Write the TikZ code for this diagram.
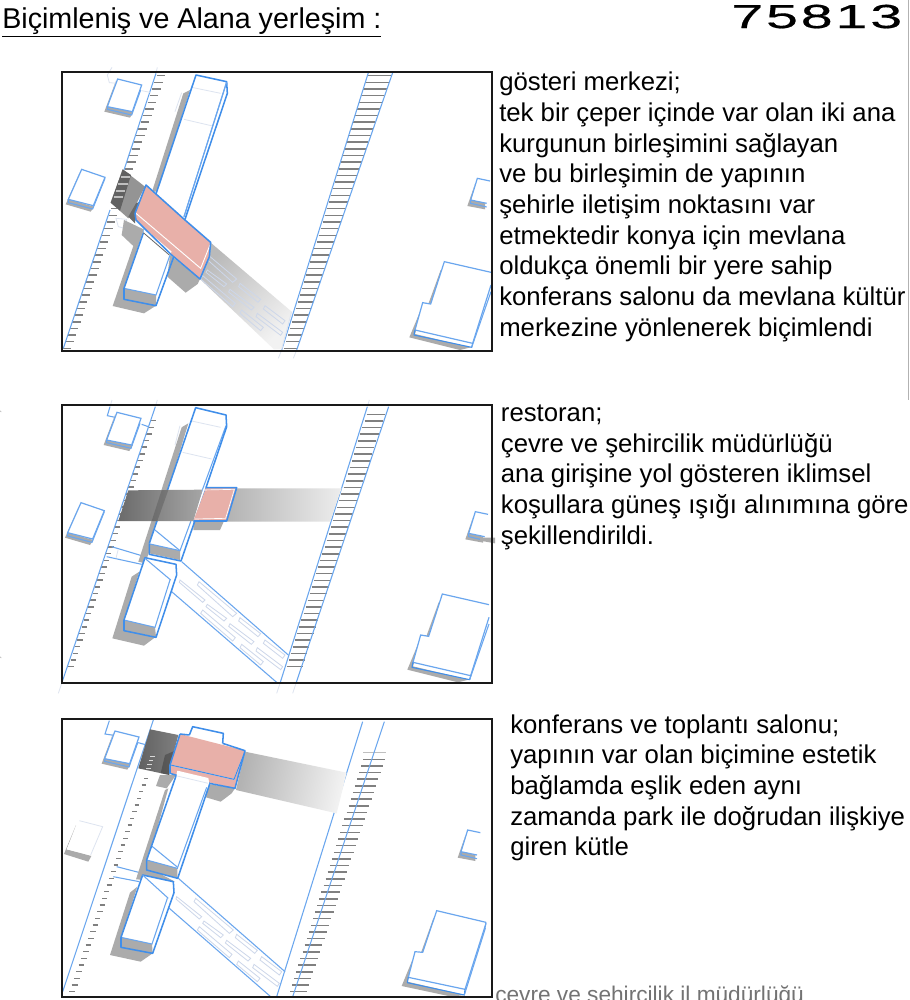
\documentclass[tikz,border=0pt]{standalone}
\usepackage{fontspec}
\setmainfont{Liberation Sans}
\newfontfamily\numfont[LetterSpace=5,FakeBold=0.4]{Liberation Sans}
\definecolor{bl}{HTML}{3F8EEA}
\definecolor{blt}{HTML}{6AA6EE}
\definecolor{fnt}{HTML}{DDE4F0}
\definecolor{inn}{HTML}{CDD7EA}
\definecolor{pnk}{HTML}{E8B0A9}
\definecolor{shd}{HTML}{ABABAB}
\definecolor{dshd}{HTML}{7C7C7C}
\tikzset{
 bk/.style={draw=bl,line width=1.15pt,line join=round},
 tn/.style={draw=blt,line width=.8pt},
 fa/.style={draw=fnt,line width=.6pt},
 sh/.style={fill=shd,draw=none},
 wh/.style={fill=white,draw=none},
 pk/.style={fill=pnk,draw=none},
 stripe/.style={draw=black!50,line width=1.15pt},
 frm/.style={draw=black!90,line width=1.4pt},
 para/.style={anchor=north west,align=left,inner sep=0pt,font=\fontsize{19.3}{23}\selectfont,text=black},
}
% stripes: x1 y1 x2 y2 n len1 len2
\newcommand\rungs[7]{\foreach \i in {0,...,#5}{%
 \pgfmathsetmacro\xa{#1+\i/#5*(#3-(#1))}\pgfmathsetmacro\ya{#2+\i/#5*(#4-(#2))}%
 \pgfmathsetmacro\la{#6+\i/#5*(#7-(#6))}%
 \draw[stripe] (\xa,\ya) -- ++(\la,0);}}
\newcommand\bldA[1]{\begin{scope}[shift={#1}]
 \fill[sh] (198,62)--(163,155)--(240,173)--(250,155)--(175,138)--cycle;
 \fill[wh] (203,57)--(275,75)--(247,155)--(172,140)--cycle;
 \draw[tn,line width=.9pt] (203,57)--(275,75)--(247,155)--(172,140)--cycle;
 \draw[tn] (172,140)--(172,148)--(245,165)--(272,90);
 \end{scope}}
\newcommand\bldB[1]{\begin{scope}[shift={#1}]
 \fill[sh] (88,340)--(47,433)--(122,455)--(132,440)--(55,418)--cycle;
 \fill[wh] (95,328)--(165,352)--(130,437)--(55,418)--cycle;
 \draw[tn,line width=.9pt] (95,328)--(165,352)--(130,437)--(55,418)--cycle;
 \draw[tn] (55,418)--(55,428)--(128,447)--(165,355);
 \end{scope}}
\newcommand\bldR[1]{\begin{scope}[shift={#1}]
 \fill[sh] (1275,372)--(1252,438)--(1305,448)--(1305,430)--(1262,420)--cycle;
 \fill[wh] (1282,355)--(1320,363)--(1320,428)--(1262,420)--cycle;
 \draw[tn,line width=.9pt] (1320,363)--(1282,355)--(1262,420)--(1310,430);
 \draw[tn] (1262,420)--(1262,430)--(1310,441);
 \end{scope}}
\newcommand\bldBig[1]{\begin{scope}[shift={#1}]
 \fill[sh] (1172,630)--(1135,732)--(1160,732)--(1185,630)--cycle;
 \fill[sh] (1110,755)--(1078,832)--(1230,870)--(1262,862)--(1095,822)--(1115,755)--cycle;
 \fill[wh] (1183,605)--(1323,637)--(1323,680)--(1268,850)--(1095,810)--(1118,728)--(1142,732)--cycle;
 \draw[tn,line width=.9pt] (1323,637)--(1183,605)--(1142,732)--(1118,728)--(1095,810)--(1268,850)--(1323,675);
 \draw[bk,line width=.8pt] (1095,810)--(1092,825)--(1265,862)--(1268,850);
 \draw[tn] (1265,862)--(1323,695);
 \end{scope}}
% lower-right diagonal pedestrian strip inner rectangles
\newcommand\inner[1]{\begin{scope}[shift={#1}]
 \draw[inn,line width=.6pt] (390,555)--(465,615)--(458,622)--(388,562)--cycle;
 \draw[inn,line width=.6pt] (447,560)--(560,655)--(548,665)--(442,570)--cycle;
 \draw[inn,line width=.6pt] (472,628)--(530,670)--(522,678)--(468,635)--cycle;
 \draw[inn,line width=.6pt] (540,686)--(612,740)--(604,748)--(536,694)--cycle;
 \draw[inn,line width=.6pt] (458,645)--(556,728)--(548,738)--(452,655)--cycle;
 \draw[inn,line width=.6pt] (570,668)--(632,716)--(624,725)--(566,678)--cycle;
 \draw[inn,line width=.6pt] (645,735)--(705,780)--(698,790)--(640,745)--cycle;
 \draw[inn,line width=.6pt] (575,748)--(640,800)--(632,810)--(570,758)--cycle;
 \draw[inn,line width=.6pt] (622,758)--(698,815)--(692,824)--(618,768)--cycle;
 \end{scope}}
\begin{document}
\begin{tikzpicture}[x=.25pt,y=-.25pt]
\useasboundingbox (0,0) rectangle (2730,3000);
\clip (0,0) rectangle (2730,3000);
\fill[white] (0,0) rectangle (2730,3000);
% page furniture
\node[anchor=base west,inner sep=0pt,font=\fontsize{21.5}{26}\selectfont,text=black] (title) at (6,86) {\underline{Biçimleniş ve Alana yerleşim :}};
\node[anchor=base east,inner sep=0pt,font=\fontsize{25}{30}\selectfont,xscale=1.72] (num) at (2708,84) {\numfont 75813};
\draw[gray!60,line width=.5pt] (2726,0)--(2726,1200);
\draw[gray!60,line width=.4pt] (0,1232)--(4,1236) (0,1970)--(4,1974);

% ---------- PANEL 1 ----------
\begin{scope}[shift={(150,180)}]
 \rungs{320}{47}{40}{865}{41}{26}{24}
 \rungs{952}{47}{702}{865}{41}{72}{40}
 \draw[tn] (318,40)--(222,330) (180,450)--(40,865);
 \draw[tn] (955,38)--(695,870) (1028,38)--(740,870);
 \draw[fa] (172,45)--(178,68)--(203,70) (275,92)--(300,97) (198,475)--(205,500)--(225,505)--(230,478)--cycle;
 \draw[fa] (322,22)--(318,38) (186,22)--(172,45) (695,870)--(685,895) (740,870)--(730,895);
 \bldA{(0,0)}
 \bldB{(0,0)}
 \bldR{(0,0)}
 \bldBig{(0,0)}
 % ribbon
 \shade[top color=black!27,bottom color=black!5,shading angle=42] (482,548)--(725,755)--(695,868)--(672,868)--(450,657)--cycle;
 \inner{(0,2)}
 \draw[fa,line width=.7pt] (725,755)--(695,868);
 % shadows of the long block
 \fill[sh] (420,90)--(400,100)--(306,395)--(322,395)--cycle;
 \fill[sh] (222,480)--(215,525)--(250,558)--(188,738)--(282,760)--(318,737)--(300,600)--(285,510)--cycle;
 \fill[sh] (360,585)--(352,650)--(407,698)--(443,672)--(450,657)--cycle;
 % long block
 \fill[wh] (438,45)--(530,65)--(532,100)--(318,705)--(222,685)--cycle;
 \fill[shd] (222,685)--(318,705)--(318,737)--(222,718)--cycle;
 \draw[fa] (395,98)--(375,155) (425,82)--(512,100) (402,178)--(488,198);
 \draw[tn] (530,65)--(402,470) (360,585)--(318,705)--(222,685);
 \draw[bk] (285,505)--(222,685)--(222,718)--(318,737)--(375,580);
 \draw[bk] (318,402)--(438,45)--(530,65)--(532,100)--(405,478);
 \draw[tn] (530,67)--(402,470);
 % dark shadow
 \fill[black!42] (218,328)--(182,428)--(235,475)--(260,430)--(285,380)--(240,345)--cycle;
 \fill[black!62] (218,328)--(182,428)--(210,452)--(243,345)--cycle;
 \foreach \yy/\xx in {352/212,372/205,392/198,412/192}{\draw[draw=black!25,line width=1.7pt] (\xx,\yy)--++(28,0);}
 \fill[black!58] (258,430)--(235,470)--(255,490)--(258,460)--(270,425)--cycle;
 % pink
 \fill[pk] (288,375)--(318,402)--(405,480)--(482,547)--(478,590)--(450,657)--(365,585)--(283,505)--(258,480)--(255,460)--cycle;
 \draw[white,line width=.7pt] (258,460)--(452,625)--(482,550);
 \fill[wh] (283,505)--(365,575)--(358,585)--(280,518)--cycle;
 \draw[black!60,line width=.6pt] (280,518)--(358,585);
 \draw[bk] (288,375)--(318,402)--(405,480)--(482,547)--(478,590)--(450,657)--(365,585)--(283,505)--(258,480)--(255,460)--cycle;
 \draw[frm] (35,35) rectangle (1325,873);
\end{scope}
\node[para] (t1) at (1497,216) {gösteri merkezi;\\tek bir çeper içinde var olan iki ana\\kurgunun birleşimini sağlayan\\ve bu birleşimin de yapının\\şehirle iletişim noktasını var\\etmektedir konya için mevlana\\oldukça önemli bir yere sahip\\konferans salonu da mevlana kültür\\merkezine yönlenerek biçimlendi};

% ---------- PANEL 2 ----------
\begin{scope}[shift={(150,1185)}]
 \rungs{300}{77}{55}{815}{37}{18}{16}
 \rungs{950}{58}{710}{815}{38}{55}{48}
 \draw[tn] (316,35)--(35,865);
 \draw[tn] (952,35)--(690,865) (1016,35)--(738,865);
 \draw[tn] (180,35)--(172,62)--(200,68) (275,88)--(295,95);
 \draw[fa] (35,865)--(25,895) (690,865)--(680,895) (738,865)--(728,895) (186,15)--(180,35) (322,15)--(316,35) (958,15)--(952,35);
 \bldA{(-2,-5)}
 \bldB{(-2,-5)}
 \bldR{(-6,-5)}
 \fill[sh] (1290,428)--(1335,428)--(1335,445)--(1290,437)--cycle;
 \bldBig{(-6,-8)}
 % diagonal walk
 \inner{(0,0)}
 \draw[tn] (395,500)--(715,780) (365,590)--(680,862) (285,490)--(362,555) (315,405)--(390,467);
 \draw[tn] (185,455)--(285,485) (170,485)--(275,508);
 \draw[fa] (205,462)--(198,490);
 % shadows
 \fill[sh] (415,85)--(395,97)--(265,500)--(285,505)--(298,470)--cycle;
 \fill[sh] (268,530)--(245,545)--(187,730)--(282,752)--(318,725)--(222,707)--(222,675)--cycle;
 \fill[sh] (430,378)--(522,378)--(510,405)--(430,405)--cycle;
 % upper block
 \fill[wh] (437,38)--(528,60)--(530,95)--(390,495)--(298,475)--(298,445)--cycle;
 \fill[shd] (300,447)--(390,467)--(390,495)--(298,475)--cycle;
 \draw[fa] (425,78)--(512,97) (398,172)--(485,192) (390,92)--(375,150);
 \draw[tn] (528,92)--(390,467)--(300,447);
 \draw[tn] (315,405)--(390,467);
 \draw[bk] (298,445)--(298,478)--(393,498)--(470,275);
 \draw[bk] (298,445)--(437,38)--(528,60)--(530,95)--(468,278);
 % lower block
 \fill[wh] (285,488)--(378,508)--(380,540)--(318,725)--(222,707)--(222,675)--cycle;
 \fill[shd] (222,675)--(315,697)--(318,725)--(222,707)--cycle;
 \draw[tn] (360,555)--(315,697)--(222,675);
 \draw[bk] (285,488)--(222,675)--(222,707)--(318,727)--(380,540)--(378,508)--cycle;
 \draw[tn] (285,490)--(362,555);
 % gradient band
 \shade[left color=black!58,right color=black!35] (235,286)--(458,284)--(430,378)--(205,378)--cycle;
 \fill[black,opacity=.16] (335,285)--(355,285)--(322,378)--(305,378)--cycle;
 \shade[left color=black!30,right color=black!7] (560,280)--(875,280)--(840,380)--(530,380)--cycle;
 \fill[pk] (468,278)--(560,278)--(530,378)--(430,378)--cycle;
 \draw[white,line width=.5pt] (458,285)--(553,283)--(527,370)--(434,372);
 \draw[bk] (468,278)--(560,278)--(530,378)--(430,378);
 \draw[frm] (35,30) rectangle (1325,865);
\end{scope}
\node[para] (t2) at (1502,1214) {restoran;\\çevre ve şehircilik müdürlüğü\\ana girişine yol gösteren iklimsel\\koşullara güneş ışığı alınımına göre\\şekillendirildi.};

% ---------- PANEL 3 ----------
\begin{scope}[shift={(150,2130)}]
 \rungs{282}{205}{58}{845}{32}{12}{18}
 \rungs{940}{148}{720}{845}{35}{65}{50}
 \draw[draw=gray!50,line width=.6pt] (940,128)--(1008,128);
 \draw[tn] (310,30)--(38,845);
 \draw[tn] (938,35)--(680,860) (1003,35)--(728,860);
 \draw[tn] (178,32)--(165,72)--(192,76) (265,98)--(290,105);
 \bldA{(-8,6)}
 % faded building
 \fill[sh] (78,345)--(42,432)--(115,455)--(124,438)--(50,418)--cycle;
 \fill[wh] (88,332)--(158,350)--(122,435)--(50,418)--cycle;
 \draw[fa] (88,332)--(158,350)--(122,435);
 \bldR{(-29,5)}
 % large building, whole
 \fill[sh] (1150,625)--(1113,728)--(1138,728)--(1162,625)--cycle;
 \fill[sh] (1087,750)--(1055,828)--(1205,860)--(1245,855)--(1072,815)--(1092,750)--cycle;
 \fill[wh] (1160,602)--(1308,637)--(1303,665)--(1245,838)--(1075,802)--(1095,725)--(1118,727)--cycle;
 \draw[tn,line width=.9pt] (1308,637)--(1160,602)--(1118,727)--(1095,725)--(1075,802)--(1245,838)--(1308,640);
 \draw[bk,line width=.8pt] (1075,802)--(1072,818)--(1243,855)--(1245,838);
 \draw[tn] (1243,855)--(1306,655) (1308,637)--(1304,660);
 \inner{(-10,5)}
 \draw[tn] (385,505)--(705,785) (358,595)--(662,860) (278,495)--(355,565) (305,408)--(383,472);
 \draw[tn] (200,470)--(270,488) (190,500)--(268,515);
 % shadows
 \fill[sh] (330,195)--(318,228)--(350,235)--(378,195)--cycle;
 \fill[sh] (475,222)--(468,262)--(512,275)--(545,250)--(555,235)--cycle;
 \fill[sh] (355,235)--(345,240)--(258,508)--(375,515)--(290,470)--cycle;
 \fill[sh] (262,530)--(240,548)--(180,735)--(272,755)--(308,730)--(213,712)--(213,682)--cycle;
 % middle block
 \fill[wh] (380,190)--(478,205)--(478,225)--(383,505)--(290,480)--(290,450)--cycle;
 \fill[shd] (290,450)--(382,475)--(382,503)--(290,480)--cycle;
 \draw[tn] (470,232)--(382,475)--(290,450);
 \draw[tn] (305,408)--(383,472);
 \draw[bk] (378,198)--(290,450)--(290,480)--(383,505)--(478,225)--(478,205);
 % lower block
 \fill[wh] (278,495)--(370,515)--(372,548)--(308,730)--(213,712)--(213,682)--cycle;
 \fill[shd] (213,682)--(306,702)--(308,730)--(213,712)--cycle;
 \draw[tn] (352,565)--(306,702)--(213,682);
 \draw[bk] (278,495)--(213,682)--(213,712)--(308,730)--(372,548)--(370,515)--cycle;
 \draw[tn] (278,495)--(355,565);
 % top bump
 \fill[wh] (418,75)--(428,50)--(520,70)--(518,100)--cycle;
 \draw[bk] (418,75)--(428,50)--(520,70)--(518,100);
 % shade
 \shade[left color=black!62,right color=black!50] (300,58)--(385,75)--(360,170)--(358,195)--(265,175)--cycle;
 \fill[black,opacity=.25] (375,122)--(345,135)--(332,190)--(358,195)--(362,165)--cycle;
 \foreach \yy/\xx in {140/300,152/296,164/292,176/288}{\draw[draw=gray!30,line width=1.1pt] (\xx,\yy)--++(14,0);}
 \shade[left color=black!30,right color=black!5,shading angle=78] (585,125)--(890,188)--(860,310)--(558,240)--cycle;
 % pink
 \fill[pk] (390,72)--(585,122)--(555,235)--(360,190)--(360,165)--cycle;
 \fill[wh] (382,182)--(475,204)--(478,222)--(378,198)--cycle;
 \draw[fa] (382,198)--(475,220);
 \draw[white,line width=.6pt] (362,165)--(552,208)--(585,125);
 \draw[bk] (390,72)--(418,75) (518,100)--(585,122)--(555,235)--(478,220) (390,72)--(360,165)--(360,190)--(380,196);
 \draw[bk,line width=.8pt] (362,165)--(552,208)--(585,125);
 \draw[frm] (35,28) rectangle (1325,862);
\end{scope}
\node[para] (t3) at (1530,2143) {konferans ve toplantı salonu;\\yapının var olan biçimine estetik\\bağlamda eşlik eden aynı\\zamanda park ile doğrudan ilişkiye\\giren kütle};
\node[anchor=base west,inner sep=0pt,font=\fontsize{17}{20}\selectfont,text=black!55] (t4) at (1485,3008) {çevre ve şehircilik il müdürlüğü};
\end{tikzpicture}
\end{document}
